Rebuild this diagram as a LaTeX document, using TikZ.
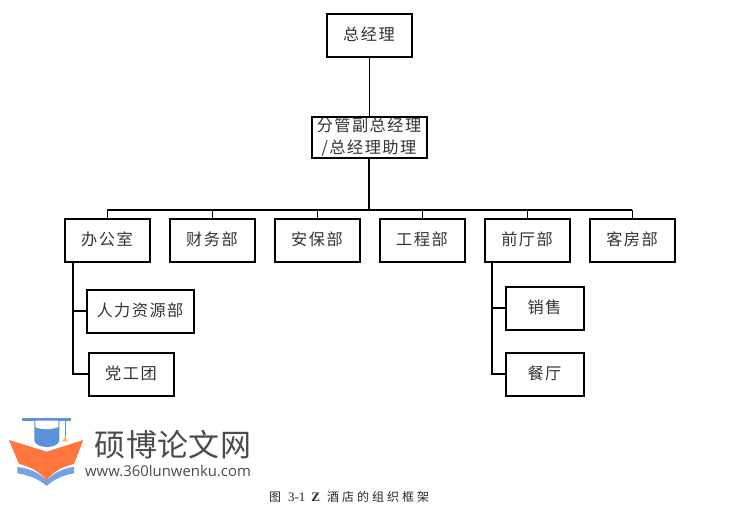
\documentclass[tikz,border=0pt]{standalone}
\usepackage{fontspec}
\setmainfont{Liberation Serif}
\newfontfamily\cjk[LetterSpace=9]{Noto Sans CJK SC}
\newfontfamily\capcjk[LetterSpace=25]{Noto Sans CJK SC}
\newfontfamily\logocjk[LetterSpace=1]{Noto Sans CJK SC}
\newfontfamily\logourl{Open Sans}
\usetikzlibrary{positioning}
\definecolor{capblue}{RGB}{91,146,222}
\definecolor{bookorange}{RGB}{255,117,62}
\definecolor{logogray}{RGB}{75,75,75}
\definecolor{stargold}{RGB}{250,190,90}
\begin{document}
\begin{tikzpicture}[x=1pt,y=-1pt,inner sep=0pt,outer sep=0pt,
boxblock/.style={draw,rectangle,line width=2pt,minimum width=85pt,minimum height=43pt,text=black!80,font=\cjk\fontsize{16.2}{21.5}\selectfont,align=center},
orgblock/.style={boxblock,text height=14pt,text depth=4pt},
thinline/.style={line width=1pt},
thickline/.style={line width=2pt}]
\useasboundingbox (0,0) rectangle (743,508);

\draw (369,36) node[orgblock] (gm) {总经理};
\draw (369,137) node[boxblock,minimum width=115pt,minimum height=41pt] (vp) {分管副总经理\\/总经理助理};
\draw (107,240) node[orgblock] (office) {办公室};
\draw (212,240) node[orgblock] (finance) {财务部};
\draw (317,240) node[orgblock] (security) {安保部};
\draw (422,240) node[orgblock] (works) {工程部};
\draw (527,240) node[orgblock] (front) {前厅部};
\draw (632,240) node[orgblock] (rooms) {客房部};
\draw (140,311) node[orgblock,minimum width=107pt] (hr) {人力资源部};
\draw (131,374) node[orgblock] (party) {党工团};
\draw (544.5,308) node[orgblock,minimum width=78pt] (sales) {销售};
\draw (544.5,374) node[orgblock,minimum width=78pt] (dining) {餐厅};

\coordinate (bus) at (369,210);
\coordinate (officeleg) at (73,262);
\coordinate (frontleg) at (492,262);
\draw[thinline] (gm.south) -- (vp.north);
\draw[thickline] (vp.south) -- (bus);
\draw[thickline] (office.north |- bus) -- (rooms.north |- bus);
\foreach \dept in {office,finance,security,works,front,rooms}
  \draw[thinline] (\dept.north |- bus) -- (\dept.north);
\draw[thickline] (officeleg) |- (hr.west);
\draw[thickline] (officeleg) |- (party.west);
\draw[thickline] (frontleg) |- (sales.west);
\draw[thickline] (frontleg) |- (dining.west);

% logo
\fill[capblue] (22.3,418) rectangle (70.7,420.7);
\fill[capblue] (34.3,420.7) -- (59.3,420.7) -- (59.3,441) .. controls (57,449) and (37,449) .. (34.3,441) -- cycle;
\fill[white] (35.3,420.7) -- (58.3,420.7) -- (58.3,427) .. controls (52,430) and (41,430) .. (35.3,427) -- cycle;
\draw[capblue,line width=0.7pt] (65,420.7) -- (65,437);
\fill[stargold] (65,436.5) -- (67.8,441.5) -- (62.2,441.5) -- cycle;
\fill[capblue!85] (17.3,467) .. controls (28,468) and (38,472) .. (46.7,480) .. controls (55,472) and (64,468) .. (74,467) -- (74,473.3) .. controls (64,475) and (54,479) .. (46.7,486) .. controls (39,479) and (28,475) .. (17.3,473.3) -- cycle;
\fill[bookorange] (9,440) -- (46.7,451.7) -- (83.3,440) -- (74,464) .. controls (64,466) and (54,471) .. (46.7,480) .. controls (39,471) and (28,466) .. (19,464) -- cycle;
\node[text=logogray,font=\logocjk\fontsize{31}{31}\selectfont] (brand) at (173,445) {硕博论文网};
\node[text=logogray,font=\logourl\fontsize{14.9}{16}\selectfont] (url) at (168,471) {www.360lunwenku.com};

\node[text=black!85,font=\capcjk\fontsize{12}{14}\selectfont] (caption) at (349,497) {图\hspace{7pt}{\rmfamily\fontsize{13}{14}\selectfont 3-1\hspace{6pt}\textbf{Z}}\hspace{7pt}酒店的组织框架};
\end{tikzpicture}
\end{document}
